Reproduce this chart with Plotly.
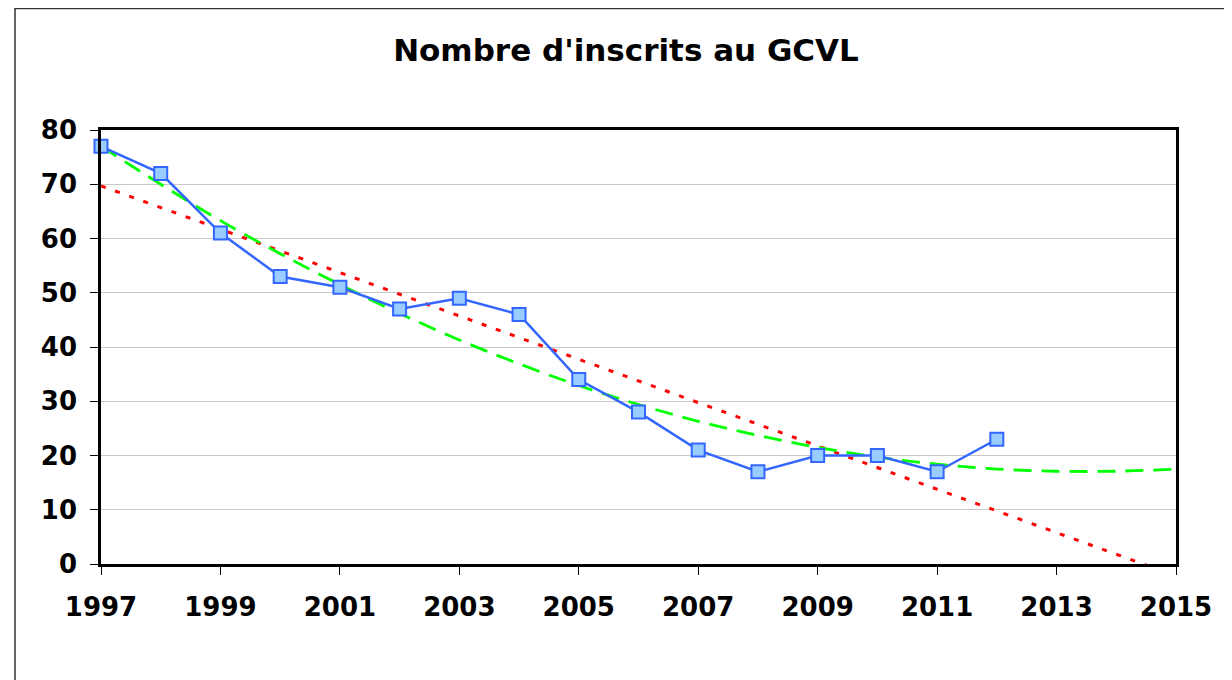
import plotly.graph_objects as go

years = [1997, 1998, 1999, 2000, 2001, 2002, 2003, 2004, 2005, 2006, 2007, 2008, 2009, 2010, 2011, 2012]
inscrits = [77, 72, 61, 53, 51, 47, 49, 46, 34, 28, 21, 17, 20, 20, 17, 23]

# trend lines
lin_years = [1997, 1999, 2001, 2003, 2005, 2007, 2009, 2011, 2013, 2015]
lin_vals = [69.7, 61.7, 53.7, 45.7, 37.8, 29.8, 21.8, 13.8, 5.8, -2.2]

poly_years = [1997, 1998, 1999, 2000, 2001, 2002, 2003, 2004, 2005, 2006,
              2007, 2008, 2009, 2010, 2011, 2012, 2013, 2014, 2015]
poly_vals = [77.0, 70.0, 63.3, 57.2, 51.5, 46.2, 41.3, 36.9, 32.9, 29.4,
             26.3, 23.7, 21.5, 19.7, 18.4, 17.5, 17.1, 17.1, 17.5]

x_ticks = [1997, 1999, 2001, 2003, 2005, 2007, 2009, 2011, 2013, 2015]
y_ticks = [0, 10, 20, 30, 40, 50, 60, 70, 80]

fig = go.Figure()
fig.add_trace(go.Scatter(x=lin_years, y=lin_vals, mode="lines",
                         line=dict(color="#FF0000", width=3, dash="5px,10px"),
                         hoverinfo="skip", showlegend=False))
fig.add_trace(go.Scatter(x=poly_years, y=poly_vals, mode="lines",
                         line=dict(color="#00FF00", width=2.8, dash="18px,10px", shape="spline"),
                         hoverinfo="skip", showlegend=False))
fig.add_trace(go.Scatter(x=years, y=inscrits, mode="lines+markers",
                         line=dict(color="#3366FF", width=2.5),
                         marker=dict(symbol="square", size=13, color="#99CCFF",
                                     line=dict(color="#3366FF", width=2)),
                         cliponaxis=False, showlegend=False))

# the page has an 8px body margin: figure is 1224x672 drawn at (8, 8)
W, H = 1224, 672
L, R, T, B = 93, 56, 122, 116
pw, ph = W - L - R, H - T - B

font_family = "DejaVu Sans, Verdana, sans-serif"
fig.update_layout(
    width=W, height=H,
    margin=dict(l=L, r=R, t=T, b=B),
    paper_bgcolor="white", plot_bgcolor="white",
    title=dict(text="<b>Nombre d'inscrits au GCVL</b>", x=(626 - 8) / W, xanchor="center",
               y=1 - (50 - 8) / H, yanchor="middle",
               font=dict(family=font_family, size=31, color="black")),
    xaxis=dict(range=[1997, 2015], tickmode="array", tickvals=x_ticks,
               ticktext=[f"<b>{v}</b>" for v in x_ticks],
               showgrid=False, zeroline=False, showline=True, linecolor="black",
               linewidth=2.5, mirror=True, ticks="outside", ticklen=8,
               tickcolor="black", tickwidth=1, ticklabelstandoff=10,
               tickfont=dict(family=font_family, size=26, color="black")),
    yaxis=dict(range=[0, 80], tickmode="array", tickvals=y_ticks,
               ticktext=[f"<b>{v}</b>" for v in y_ticks],
               showgrid=True, gridcolor="#C8C8C8", gridwidth=1,
               zeroline=False, showline=True, linecolor="black",
               linewidth=2.5, mirror=True, ticks="outside", ticklen=8,
               tickcolor="black", tickwidth=1, ticklabelstandoff=8,
               tickfont=dict(family=font_family, size=26, color="black")),
)

# outer chart border (screen x=15, y=8; extends past right/bottom edges)
fig.add_shape(type="rect", xref="paper", yref="paper",
              x0=(15 - 8 - L) / pw, x1=(W + 20 - L) / pw,
              y0=-(B + 30) / ph, y1=(ph + T - 0.5) / ph,
              line=dict(color="#333333", width=1.5), layer="below")

fig.write_html("out.html")
